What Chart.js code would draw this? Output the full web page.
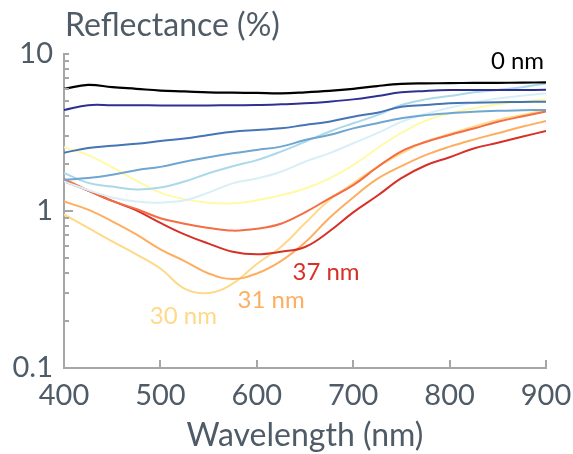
<!DOCTYPE html>
<html><head><meta charset="utf-8">
<script src="https://cdn.jsdelivr.net/npm/chart.js@4.4.1/dist/chart.umd.min.js"></script>
<style>html,body{margin:0;padding:0;background:#fff;overflow:hidden}canvas{display:block}
#fl{font-family:Lato;position:absolute;left:-999px;top:0}</style>
</head><body>
<div id="fl">Reflectance 0123456789 nm</div>
<canvas id="c" width="573" height="454"></canvas>
<script>
// Wavelength (nm)
const wavelengths = [400,425,450,475,500,525,550,575,600,625,650,675,700,725,750,775,800,825,850,875,900];
// Reflectance (%) for each coating
const r0nm       = [6.0,6.35,6.15,6.0,5.85,5.78,5.7,5.67,5.65,5.62,5.7,5.82,6.0,6.25,6.45,6.5,6.52,6.55,6.55,6.57,6.6];
const rNavy      = [4.4,4.72,4.72,4.72,4.7,4.7,4.7,4.72,4.73,4.78,4.85,4.97,5.14,5.4,5.7,5.82,5.9,5.9,5.9,5.9,5.92];
const rBlue      = [2.35,2.52,2.6,2.68,2.79,2.9,3.05,3.2,3.28,3.36,3.53,3.7,3.99,4.23,4.62,4.73,4.85,4.9,4.93,4.95,4.97];
const rSteel     = [1.58,1.62,1.7,1.82,1.91,2.06,2.2,2.33,2.45,2.57,2.83,3.05,3.36,3.62,3.9,4.08,4.19,4.29,4.35,4.38,4.4];
const rLightBlue = [1.75,1.51,1.43,1.37,1.41,1.54,1.74,1.93,2.11,2.39,2.76,3.2,3.62,4.08,4.73,5.14,5.4,5.7,5.9,6.14,6.5];
const rPaleBlue  = [1.54,1.36,1.22,1.15,1.13,1.17,1.31,1.5,1.61,1.78,2.06,2.33,2.7,3.13,3.7,4.15,4.55,4.9,5.2,5.42,5.62];
const rYellow    = [2.55,2.27,1.9,1.56,1.31,1.19,1.13,1.12,1.17,1.26,1.39,1.61,1.96,2.51,3.15,3.75,4.19,4.51,4.78,4.97,5.14];
const rOrangeRed = [1.6,1.35,1.16,1.03,0.9,0.83,0.78,0.75,0.77,0.83,0.98,1.2,1.46,1.9,2.4,2.75,3.05,3.35,3.7,4.0,4.3];
const r37nm      = [1.55,1.35,1.16,1.01,0.84,0.71,0.62,0.55,0.53,0.55,0.59,0.74,0.98,1.25,1.62,1.95,2.2,2.5,2.72,2.97,3.23];
const r31nm      = [1.15,1.02,0.86,0.71,0.57,0.48,0.40,0.369,0.40,0.48,0.63,0.9,1.22,1.6,1.93,2.27,2.57,2.85,3.13,3.44,3.74];
const r30nm      = [0.95,0.78,0.64,0.53,0.43,0.32,0.30,0.345,0.46,0.59,0.835,1.17,1.5,1.91,2.33,2.76,3.09,3.44,3.8,4.08,4.4];
// Axis ticks
const xTickValues = [400,500,600,700,800,900];
const yTickLabels = [0.1,1,10];
const yMinorTicks = [0.2,0.3,0.4,0.5,0.6,0.7,0.8,0.9,2,3,4,5,6,7,8,9];
// Curve labels: text, wavelength, reflectance anchor
const curveLabels = ['0 nm','37 nm','31 nm','30 nm'];
const curveLabelX = [898,637,580,489];
const curveLabelY = [8.0,0.364,0.241,0.19];

const series = [r0nm,rNavy,rBlue,rSteel,rLightBlue,rPaleBlue,rYellow,rOrangeRed,r37nm,r31nm,r30nm];
const seriesColors = ['#000000','#2e3192','#4575b4','#6fa6d2','#abd9e9','#d8eff7','#fffaa6','#f46d43','#d73027','#fdae61','#fed98a'];
const labelColors = ['#000000','#d73027','#fdae61','#fed98a'];
const textColor = '#4f5b66';
const axisColor = '#a6a6a6';
const FONT = 'Lato';

const datasets = series.map((s,i)=>({
  data: wavelengths.map((w,j)=>({x:w,y:s[j]})),
  borderColor: seriesColors[i],
  borderWidth: i===0 ? 2.2 : 2,
  pointRadius: 0,
  fill: false,
  tension: 0.4
}));

const decorPlugin = {
  id:'decor',
  afterDraw(chart){
    const ctx = chart.ctx, xs = chart.scales.x, ys = chart.scales.y, ca = chart.chartArea;
    ctx.save();
    ctx.strokeStyle = axisColor; ctx.lineWidth = 2;
    // inward y ticks
    yMinorTicks.concat([1,10]).forEach(v=>{
      const y = Math.round(ys.getPixelForValue(v));
      const len = (v===1) ? 9 : 5;
      ctx.beginPath(); ctx.moveTo(ca.left, y); ctx.lineTo(ca.left+len, y); ctx.stroke();
    });
    // inward x ticks
    xTickValues.forEach(v=>{
      if (v===400) return;
      const x = Math.round(xs.getPixelForValue(v));
      ctx.beginPath(); ctx.moveTo(x, ca.bottom); ctx.lineTo(x, ca.bottom-8); ctx.stroke();
    });
    // title
    ctx.fillStyle = textColor;
    ctx.font = '32px ' + FONT;
    ctx.textAlign = 'left'; ctx.textBaseline = 'alphabetic';
    ctx.fillText('Reflectance (%)', ca.left+1, 36);
    // curve labels
    ctx.font = '24px ' + FONT;
    curveLabels.forEach((t,i)=>{
      ctx.fillStyle = labelColors[i];
      ctx.textAlign = i===0 ? 'right' : 'left';
      ctx.fillText(t, xs.getPixelForValue(curveLabelX[i]), ys.getPixelForValue(curveLabelY[i]));
    });
    ctx.restore();
  }
};

new Chart(document.getElementById('c'), {
  type:'line',
  data:{datasets},
  options:{
    responsive:false, animation:false, devicePixelRatio:1,
    layout:{padding:{top:54,right:27,left:0,bottom:0}},
    plugins:{legend:{display:false}, tooltip:{enabled:false}},
    scales:{
      x:{
        type:'linear', min:400, max:900,
        grid:{display:false, drawTicks:false},
        border:{display:true, color:axisColor, width:2},
        ticks:{stepSize:100, color:textColor, font:{family:FONT,size:29}, padding:10, maxRotation:0,
          callback:(v)=> xTickValues.includes(v) ? String(v) : ''},
        title:{display:true, text:'Wavelength (nm)', color:textColor, font:{family:FONT,size:32}, padding:{top:0,bottom:-1}},
        afterFit:(s)=>{ s.height = 86; s.paddingRight = 0; s.paddingLeft = 0; }
      },
      y:{
        type:'logarithmic', min:0.1, max:10,
        grid:{display:false, drawTicks:false},
        border:{display:true, color:axisColor, width:2},
        ticks:{color:textColor, font:{family:FONT,size:29}, padding:11, autoSkip:false,
          callback:(v)=>{ const m = yTickLabels.find(t=>Math.abs(t-v)<1e-9); return m!==undefined ? String(m) : ''; }},
        afterFit:(s)=>{ s.width = 64; s.paddingTop = 0; s.paddingBottom = 0; }
      }
    }
  },
  plugins:[decorPlugin]
});
</script>
</body></html>
